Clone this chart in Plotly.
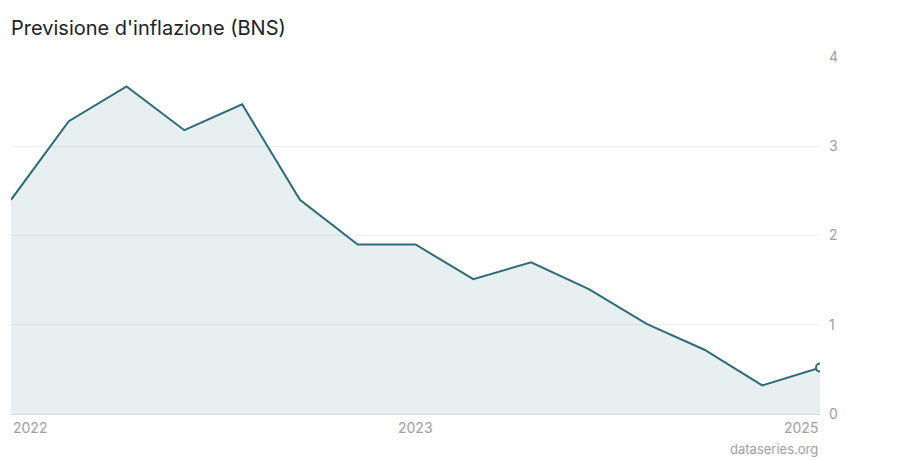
import plotly.graph_objects as go

# SNB inflation forecast path, one point per period
periods = [
    "2022-01", "2022-02", "2022-03", "2022-04", "2022-05", "2022-06", "2022-07",
    "2023-01", "2023-02", "2023-03", "2023-04", "2023-05", "2023-06", "2023-07",
    "2025-01",
]
inflation = [2.4, 3.28, 3.67, 3.18, 3.47, 2.4, 1.9, 1.9, 1.51, 1.7, 1.4, 1.01, 0.72, 0.32, 0.52]

year_ticks = ["2022", "2023", "2025"]
year_tick_idx = [0, 7, 14]

LINE = "#2e6b76"
GREY = "#a0a0a0"

x = list(range(len(periods)))

fig = go.Figure()
fig.add_trace(go.Scatter(
    x=x, y=inflation, mode="lines",
    line=dict(color=LINE, width=2),
    fill="tozeroy", fillcolor="rgba(46,107,118,0.11)",
    hoverinfo="y", showlegend=False,
))
# marker on the latest value
fig.add_trace(go.Scatter(
    x=[x[-1]], y=[inflation[-1]], mode="markers",
    marker=dict(size=8, color="white", line=dict(color=LINE, width=2)),
    hoverinfo="skip", showlegend=False,
))

# year labels: first left-aligned, middle centred, last right-aligned
anchors = ["left", "center", "right"]
for idx, txt, anc in zip(year_tick_idx, year_ticks, anchors):
    fig.add_annotation(
        x=idx, y=0, xref="x", yref="y", text=txt, showarrow=False,
        xanchor=anc, yanchor="top", yshift=-3,
        font=dict(size=14, color=GREY),
    )

fig.add_annotation(
    x=1, y=0, xref="paper", yref="paper", text="dataseries.org", showarrow=False,
    xanchor="right", yanchor="top", yshift=-25,
    font=dict(size=13, color=GREY),
)

# page has an 8px body margin, so the figure is sized to fit inside it
fig.update_layout(
    width=892, height=452,
    margin=dict(l=3, r=80, t=49, b=46),
    paper_bgcolor="white", plot_bgcolor="white",
    font=dict(family="Inter, Roboto, sans-serif"),
    title=dict(
        text="Previsione d'inflazione (BNS)",
        x=0, xref="paper", xanchor="left",
        y=1, yref="container", yanchor="top", pad=dict(t=13),
        font=dict(size=20, color="#222222"),
    ),
    xaxis=dict(
        range=[0, len(periods) - 1], showgrid=False, zeroline=False,
        showticklabels=False, showline=False, fixedrange=True,
    ),
    yaxis=dict(
        side="right", range=[0, 4], tickvals=[0, 1, 2, 3, 4],
        showgrid=True, gridcolor="#f0f0f0", gridwidth=1,
        zeroline=True, zerolinecolor="#d8d8d8", zerolinewidth=1,
        tickfont=dict(size=14, color=GREY), ticks="", ticklabelstandoff=8,
        showline=False, fixedrange=True,
    ),
)

fig.write_html("out.html")
